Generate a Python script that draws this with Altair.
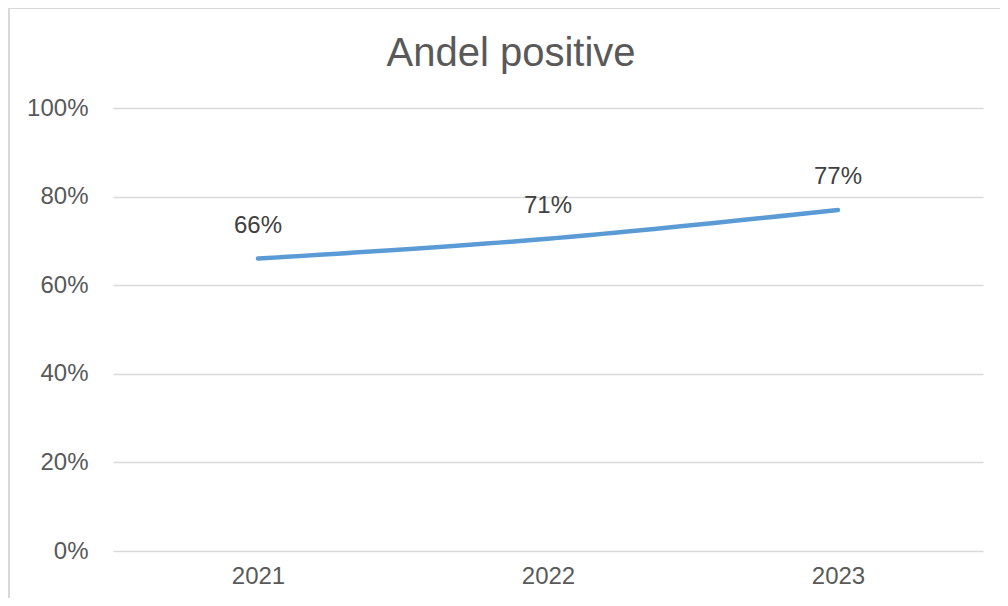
import altair as alt
import pandas as pd

years = ["2021", "2022", "2023"]
shares = [0.66, 0.705, 0.77]
title_text = ["Andel positive"]

df = pd.DataFrame({"year": years, "share": shares})

FONT = "Liberation Sans"

x_enc = alt.X("year:N", sort=years, title=None,
              scale=alt.Scale(type="point", padding=0.5),
              axis=alt.Axis(labelAngle=0, labelFontSize=24, labelColor="#595959",
                            labelFont=FONT, ticks=False, domain=False, grid=False,
                            labelPadding=13))
y_enc = alt.Y("share:Q", title=None,
              scale=alt.Scale(domain=[0, 1]),
              axis=alt.Axis(values=[0, 0.2, 0.4, 0.6, 0.8, 1.0], format=".0%",
                            labelFontSize=24, labelColor="#595959", labelFont=FONT,
                            ticks=False, domain=False, grid=True,
                            gridColor="#d9d9d9", gridWidth=1.5, labelPadding=25))

frame = alt.Chart(pd.DataFrame({"k": [0]})).mark_rect(
    fillOpacity=0, stroke="#d9d9d9", strokeWidth=2
).encode(x=alt.value(-104), x2=alt.value(900), y=alt.value(-100), y2=alt.value(520))

title = alt.Chart(pd.DataFrame({"t": title_text})).mark_text(
    fontSize=40, font=FONT, color="#595959", baseline="alphabetic", align="center"
).encode(x=alt.value(398), y=alt.value(-42), text="t:N")

line = alt.Chart(df).mark_line(
    interpolate="monotone", color="#5B9BD5", strokeWidth=4.5, strokeCap="round"
).encode(x=x_enc, y=y_enc)

labels = alt.Chart(df).mark_text(
    fontSize=24, font=FONT, color="#404040", baseline="alphabetic", dy=-26
).encode(x=x_enc, y=y_enc, text=alt.Text("share:Q", format=".0%"))

chart = alt.layer(frame, title, line, labels).properties(
    width=870, height=443,
    autosize=alt.AutoSizeParams(type="none"),
    padding={"left": 105, "top": 100, "right": 17, "bottom": 47},
    background="white",
).configure_view(stroke=None)

chart.save("out.html", embed_options={"renderer": "svg", "actions": False})
